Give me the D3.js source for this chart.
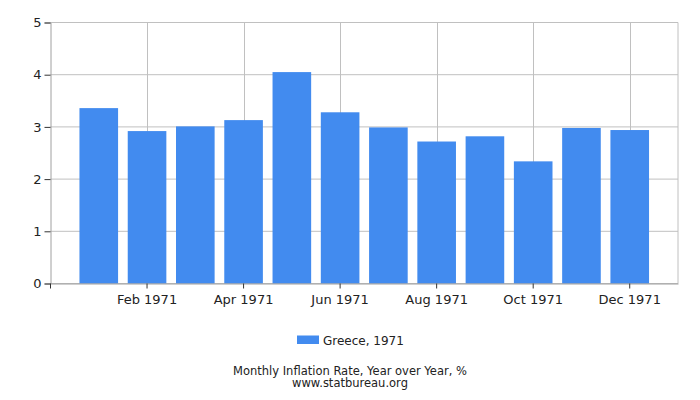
<!DOCTYPE html>
<html>
<head>
<meta charset="utf-8">
<script src="https://cdn.jsdelivr.net/npm/d3@7"></script>
<style>
  body { margin: 0; background: #fff; }
  text { font-family: "DejaVu Sans", sans-serif; }
</style>
</head>
<body>
<svg width="700" height="400"></svg>
<script>
var months = ['Jan 1971', 'Feb 1971', 'Mar 1971', 'Apr 1971', 'May 1971', 'Jun 1971',
              'Jul 1971', 'Aug 1971', 'Sep 1971', 'Oct 1971', 'Nov 1971', 'Dec 1971'];
var values = [3.36, 2.92, 3.01, 3.13, 4.05, 3.28, 2.99, 2.72, 2.82, 2.34, 2.98, 2.94];
var yTicks = [0, 1, 2, 3, 4, 5];
var xTickLabels = ['Feb 1971', 'Apr 1971', 'Jun 1971', 'Aug 1971', 'Oct 1971', 'Dec 1971'];

var plotLeft = 50.5, plotRight = 678, plotTop = 22.5, plotBottom = 283.5;
var svg = d3.select('svg');

var x = d3.scaleBand().domain(months).range([plotLeft, plotRight])
          .paddingInner(0.2).paddingOuter(0.6);
var y = d3.scaleLinear().domain([0, 5]).range([plotBottom, plotTop]);

// grid
svg.append('g').selectAll('line').data(yTicks).enter().append('line')
   .attr('x1', plotLeft).attr('x2', plotRight)
   .attr('y1', function(d) { return y(d); }).attr('y2', function(d) { return y(d); })
   .attr('stroke', '#c0c0c0').attr('stroke-width', 1);

svg.append('g').selectAll('line').data(xTickLabels).enter().append('line')
   .attr('x1', function(d) { return Math.round(x(d) + x.bandwidth() / 2) + 0.5; })
   .attr('x2', function(d) { return Math.round(x(d) + x.bandwidth() / 2) + 0.5; })
   .attr('y1', plotTop).attr('y2', plotBottom)
   .attr('stroke', '#c0c0c0').attr('stroke-width', 1);

// right border
svg.append('line').attr('x1', plotRight).attr('x2', plotRight)
   .attr('y1', plotTop).attr('y2', plotBottom)
   .attr('stroke', '#c0c0c0');

// bars
svg.append('g').selectAll('rect').data(values).enter().append('rect')
   .attr('x', function(d, i) { return x(months[i]); })
   .attr('width', x.bandwidth())
   .attr('y', function(d) { return y(d); })
   .attr('height', function(d) { return plotBottom - y(d); })
   .attr('fill', '#428bef');

// y axis
var yAxis = d3.axisLeft(y).tickValues(yTicks).tickSize(6).tickPadding(3)
              .tickFormat(d3.format('d'));
var gy = svg.append('g').attr('transform', 'translate(' + plotLeft + ',0)').call(yAxis);
gy.select('.domain').attr('stroke', '#a0a0a0');
gy.selectAll('.tick line').attr('stroke', '#333');
gy.selectAll('text').attr('font-size', 13).attr('fill', '#222')
  .style('font-family', '"DejaVu Sans", sans-serif');

// x axis
var xAxis = d3.axisBottom(x).tickValues(xTickLabels).tickSize(5).tickPadding(6).tickSizeOuter(0);
var gx = svg.append('g').attr('transform', 'translate(0,' + plotBottom + ')').call(xAxis);
gx.select('.domain').attr('stroke', '#a0a0a0');
gx.selectAll('.tick line').attr('stroke', '#333');
gx.selectAll('text').attr('font-size', 13).attr('fill', '#222')
  .style('font-family', '"DejaVu Sans", sans-serif');

// small tick at left end of x axis
svg.append('line').attr('x1', plotLeft).attr('x2', plotLeft)
   .attr('y1', plotBottom).attr('y2', plotBottom + 5)
   .attr('stroke', '#333');

// legend
svg.append('rect').attr('x', 297).attr('y', 335.5).attr('width', 22).attr('height', 8.5)
   .attr('fill', '#428bef');
svg.append('text').attr('x', 323).attr('y', 345).attr('font-size', 12).attr('fill', '#222')
   .text('Greece, 1971');

// title
svg.append('text').attr('x', 350).attr('y', 375).attr('text-anchor', 'middle')
   .attr('font-size', 11.5).attr('fill', '#222')
   .text('Monthly Inflation Rate, Year over Year, %');
svg.append('text').attr('x', 350).attr('y', 387).attr('text-anchor', 'middle')
   .attr('font-size', 11.5).attr('fill', '#222')
   .text('www.statbureau.org');
</script>
</body>
</html>
